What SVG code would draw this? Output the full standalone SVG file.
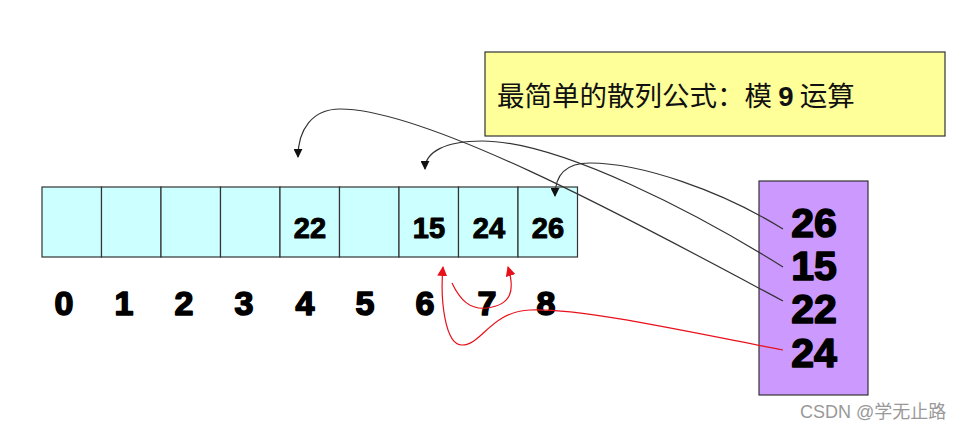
<svg xmlns="http://www.w3.org/2000/svg" width="969" height="430" viewBox="0 0 969 430">
<defs>
<style>
.cell{fill:#CCFFFF;stroke:#333;stroke-width:1.2}
.num{font-family:"Liberation Sans",Arial,sans-serif;font-weight:bold;fill:#000;text-anchor:middle;stroke:#000;stroke-linejoin:round}
.cv{font-size:29px;stroke-width:1}
.idx{font-size:34px;stroke-width:1.6}
.pv{font-size:41px;stroke-width:1.6}
.blk{fill:none;stroke:#333;stroke-width:1.2}
.red{fill:none;stroke:#E8101A;stroke-width:1.2}
</style>
<marker id="ab" viewBox="0 0 10 10" refX="9" refY="5" markerWidth="9" markerHeight="9" markerUnits="userSpaceOnUse" orient="auto"><path d="M0,0 L10,5 L0,10 z" fill="#111"/></marker>
<marker id="ar" viewBox="0 0 10 10" refX="9" refY="5" markerWidth="10" markerHeight="10" markerUnits="userSpaceOnUse" orient="auto"><path d="M0,0 L10,5 L0,10 z" fill="#E8101A"/></marker>
</defs>
<rect width="969" height="430" fill="#fff"/>

<g id="formula">
<rect x="485" y="52" width="460" height="84" fill="#FFFF99" stroke="#333" stroke-width="1.2"/>
<text x="497" y="106" font-family="'Noto Sans CJK SC','Liberation Sans',sans-serif" font-size="27.5" fill="#111">最简单的散列公式：模 <tspan font-family="'Liberation Sans',sans-serif" font-weight="bold">9</tspan> 运算</text>
</g>

<g id="table">
<rect class="cell" x="42" y="187" width="59.5" height="70"/>
<rect class="cell" x="101.5" y="187" width="59.5" height="70"/>
<rect class="cell" x="161" y="187" width="59.5" height="70"/>
<rect class="cell" x="220.5" y="187" width="59.5" height="70"/>
<rect class="cell" x="280" y="187" width="59.5" height="70"/>
<rect class="cell" x="339.5" y="187" width="59.5" height="70"/>
<rect class="cell" x="399" y="187" width="59.5" height="70"/>
<rect class="cell" x="458.5" y="187" width="59.5" height="70"/>
<rect class="cell" x="518" y="187" width="59.5" height="70"/>
<text class="num cv" x="310" y="238">22</text>
<text class="num cv" x="429" y="238">15</text>
<text class="num cv" x="489" y="238">24</text>
<text class="num cv" x="548" y="238">26</text>
</g>

<g id="indices">
<text class="num idx" x="64" y="315">0</text>
<text class="num idx" x="124" y="315">1</text>
<text class="num idx" x="184" y="315">2</text>
<text class="num idx" x="244" y="315">3</text>
<text class="num idx" x="305" y="315">4</text>
<text class="num idx" x="365" y="315">5</text>
<text class="num idx" x="425" y="315">6</text>
<text class="num idx" x="487" y="315">7</text>
<text class="num idx" x="546" y="315">8</text>
</g>

<g id="keys">
<rect x="759" y="181" width="109" height="214" fill="#CC99FF" stroke="#333" stroke-width="1.2"/>
<text class="num pv" x="814" y="237">26</text>
<text class="num pv" x="814" y="280">15</text>
<text class="num pv" x="814" y="323">22</text>
<text class="num pv" x="814" y="367">24</text>
</g>

<g id="connectors">
<path class="blk" d="M783,301 C650,230 430,109 340,109 C312,109 298,130 298,157" marker-end="url(#ab)"/>
<path class="blk" d="M783,267 C700,215 560,141 482,141 C445,141 425,152 425,169" marker-end="url(#ab)"/>
<path class="blk" d="M783,229 C720,190 640,163 590,163 C565,163 555,175 555,196" marker-end="url(#ab)"/>
<path class="red" d="M783,350 C680,330 580,308 530,310 C490,312 482,345 462,345 C445,345 440,300 443,267" marker-end="url(#ar)"/>
<path class="red" d="M452,283 C460,300 470,310 487,308 C512,305 515,290 508,267" marker-end="url(#ar)"/>
</g>

<text x="800" y="418" font-family="'Liberation Sans','Noto Sans CJK SC',sans-serif" font-size="18" fill="#999">CSDN @学无止路</text>
</svg>
